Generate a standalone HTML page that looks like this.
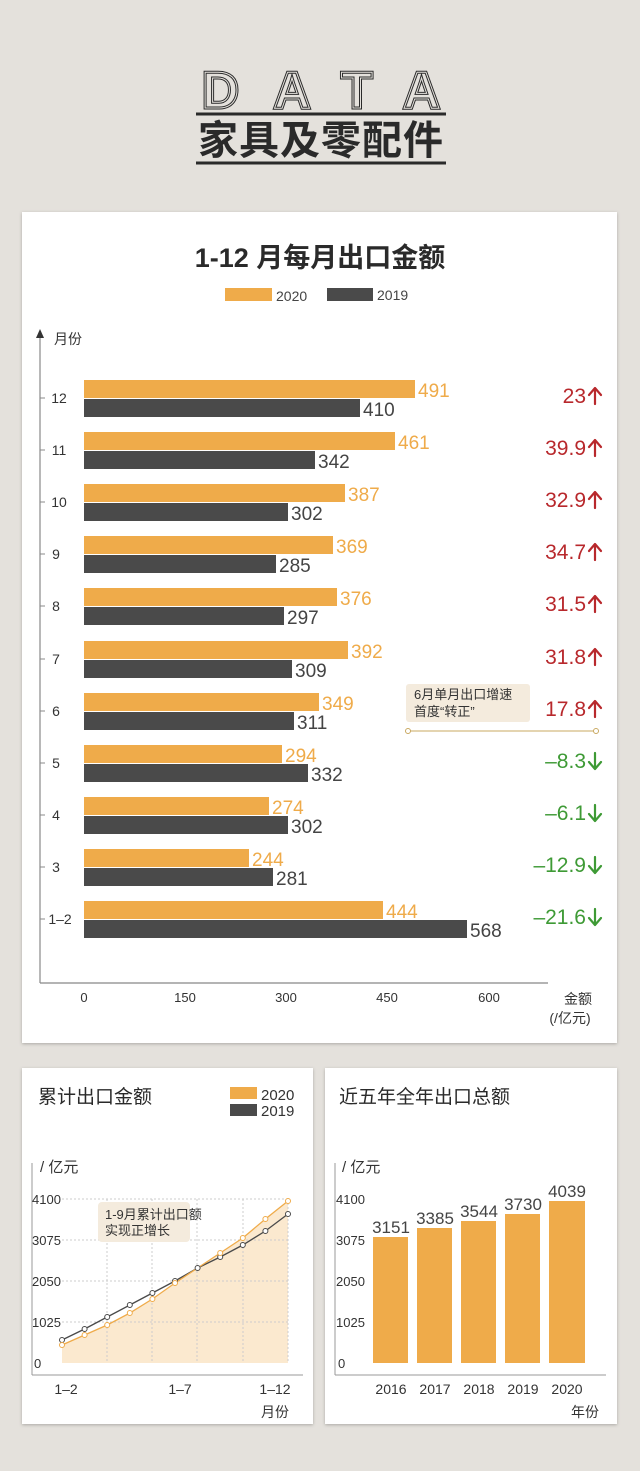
<!DOCTYPE html>
<html><head><meta charset="utf-8"><style>
body{margin:0;width:640px;height:1471px;background:#e4e1dc;overflow:hidden}
svg{display:block;font-family:"Liberation Sans","Noto Sans CJK SC",sans-serif}
</style></head><body>
<svg width="640" height="1471" viewBox="0 0 640 1471">
<defs><filter id="sh"><feDropShadow dx="0" dy="1" stdDeviation="1.5" flood-opacity="0.25"/></filter></defs>
<rect width="640" height="1471" fill="#e4e1dc"/>
<text x="338" y="108" text-anchor="middle" font-size="52" font-weight="bold" fill="none" stroke="#2a2a2a" stroke-width="3" letter-spacing="34">DATA</text>
<text x="338" y="108" text-anchor="middle" font-size="52" font-weight="bold" fill="none" stroke="#e4e1dc" stroke-width="1" letter-spacing="34">DATA</text>
<line x1="196" y1="114" x2="446" y2="114" stroke="#2a2a2a" stroke-width="3"/>
<text x="321" y="154" text-anchor="middle" font-size="40" font-weight="bold" fill="#2a2a2a" letter-spacing="1">家具及零配件</text>
<line x1="196" y1="163" x2="446" y2="163" stroke="#2a2a2a" stroke-width="3"/>
<rect x="22" y="212" width="595" height="831" fill="#fff" filter="url(#sh)"/>
<rect x="22" y="1068" width="291" height="356" fill="#fff" filter="url(#sh)"/>
<rect x="325" y="1068" width="292" height="356" fill="#fff" filter="url(#sh)"/>
<text x="320" y="267" text-anchor="middle" font-size="27" font-weight="bold" fill="#2a2a2a">1-12 月每月出口金额</text>
<rect x="225" y="288" width="47" height="13" fill="#efab4a"/><text x="276" y="301" font-size="14" fill="#444">2020</text>
<rect x="327" y="288" width="46" height="13" fill="#4a4a4a"/><text x="377" y="300" font-size="14" fill="#444">2019</text>
<line x1="40" y1="333" x2="40" y2="983" stroke="#888" stroke-width="1.2"/>
<path d="M36,338 L40,329 L44,338Z" fill="#333"/>
<line x1="40" y1="983" x2="548" y2="983" stroke="#888" stroke-width="1.2"/>
<text x="54" y="344" font-size="14" fill="#333">月份</text>
<g font-size="13" fill="#333" text-anchor="middle">
<text x="84" y="1002">0</text><text x="185" y="1002">150</text><text x="286" y="1002">300</text><text x="387" y="1002">450</text><text x="489" y="1002">600</text>
</g>
<text x="578" y="1004" text-anchor="middle" font-size="14" fill="#333">金额</text>
<text x="570" y="1023" text-anchor="middle" font-size="14" fill="#333">(/亿元)</text>
<g>
<rect x="84" y="380" width="331" height="18" fill="#efab4a"/><rect x="84" y="399" width="276" height="18" fill="#4a4a4a"/>
<rect x="84" y="432" width="311" height="18" fill="#efab4a"/><rect x="84" y="451" width="231" height="18" fill="#4a4a4a"/>
<rect x="84" y="484" width="261" height="18" fill="#efab4a"/><rect x="84" y="503" width="204" height="18" fill="#4a4a4a"/>
<rect x="84" y="536" width="249" height="18" fill="#efab4a"/><rect x="84" y="555" width="192" height="18" fill="#4a4a4a"/>
<rect x="84" y="588" width="253" height="18" fill="#efab4a"/><rect x="84" y="607" width="200" height="18" fill="#4a4a4a"/>
<rect x="84" y="641" width="264" height="18" fill="#efab4a"/><rect x="84" y="660" width="208" height="18" fill="#4a4a4a"/>
<rect x="84" y="693" width="235" height="18" fill="#efab4a"/><rect x="84" y="712" width="210" height="18" fill="#4a4a4a"/>
<rect x="84" y="745" width="198" height="18" fill="#efab4a"/><rect x="84" y="764" width="224" height="18" fill="#4a4a4a"/>
<rect x="84" y="797" width="185" height="18" fill="#efab4a"/><rect x="84" y="816" width="204" height="18" fill="#4a4a4a"/>
<rect x="84" y="849" width="165" height="18" fill="#efab4a"/><rect x="84" y="868" width="189" height="18" fill="#4a4a4a"/>
<rect x="84" y="901" width="299" height="18" fill="#efab4a"/><rect x="84" y="920" width="383" height="18" fill="#4a4a4a"/>
</g>
<g font-size="19" fill="#efab4a">
<text x="418" y="397">491</text><text x="398" y="449">461</text><text x="348" y="501">387</text><text x="336" y="553">369</text><text x="340" y="605">376</text><text x="351" y="658">392</text><text x="322" y="710">349</text><text x="285" y="762">294</text><text x="272" y="814">274</text><text x="252" y="866">244</text><text x="386" y="918">444</text>
</g>
<g font-size="19" fill="#444">
<text x="363" y="416">410</text><text x="318" y="468">342</text><text x="291" y="520">302</text><text x="279" y="572">285</text><text x="287" y="624">297</text><text x="295" y="677">309</text><text x="297" y="729">311</text><text x="311" y="781">332</text><text x="291" y="833">302</text><text x="276" y="885">281</text><text x="470" y="937">568</text>
</g>
<g font-size="14" fill="#333" text-anchor="middle">
<text x="59" y="403">12</text><text x="59" y="455">11</text><text x="59" y="507">10</text><text x="56" y="559">9</text><text x="56" y="611">8</text><text x="56" y="664">7</text><text x="56" y="716">6</text><text x="56" y="768">5</text><text x="56" y="820">4</text><text x="56" y="872">3</text><text x="60" y="924">1–2</text>
</g>
<g stroke="#888"><line x1="40" y1="398" x2="45" y2="398"/><line x1="40" y1="450" x2="45" y2="450"/><line x1="40" y1="502" x2="45" y2="502"/><line x1="40" y1="554" x2="45" y2="554"/><line x1="40" y1="606" x2="45" y2="606"/><line x1="40" y1="659" x2="45" y2="659"/><line x1="40" y1="711" x2="45" y2="711"/><line x1="40" y1="763" x2="45" y2="763"/><line x1="40" y1="815" x2="45" y2="815"/><line x1="40" y1="867" x2="45" y2="867"/><line x1="40" y1="919" x2="45" y2="919"/></g>
<g font-size="21" text-anchor="end">
<g fill="#b8282c"><text x="586" y="403">23</text><text x="586" y="455">39.9</text><text x="586" y="507">32.9</text><text x="586" y="559">34.7</text><text x="586" y="611">31.5</text><text x="586" y="664">31.8</text><text x="586" y="716">17.8</text></g>
<g fill="#3e9a35"><text x="586" y="768">–8.3</text><text x="586" y="820">–6.1</text><text x="586" y="872">–12.9</text><text x="586" y="924">–21.6</text></g>
</g>
<g stroke-width="2.2" fill="none" stroke-linecap="round" stroke-linejoin="round">
<g stroke="#b8282c">
<path d="M595,404 V389 M589,395 L595,388 L601,395"/>
<path d="M595,456 V441 M589,447 L595,440 L601,447"/>
<path d="M595,508 V493 M589,499 L595,492 L601,499"/>
<path d="M595,560 V545 M589,551 L595,544 L601,551"/>
<path d="M595,612 V597 M589,603 L595,596 L601,603"/>
<path d="M595,665 V650 M589,656 L595,649 L601,656"/>
<path d="M595,717 V702 M589,708 L595,701 L601,708"/>
</g>
<g stroke="#3e9a35">
<path d="M595,753 V768 M589,762 L595,769 L601,762"/>
<path d="M595,805 V820 M589,814 L595,821 L601,814"/>
<path d="M595,857 V872 M589,866 L595,873 L601,866"/>
<path d="M595,909 V924 M589,918 L595,925 L601,918"/>
</g></g>
<rect x="406" y="684" width="124" height="38" rx="3" fill="#f4ebdd"/>
<text x="414" y="699" font-size="13" fill="#333">6月单月出口增速</text>
<text x="414" y="716" font-size="13" fill="#333">首度“转正”</text>
<line x1="408" y1="731" x2="596" y2="731" stroke="#c9a860"/>
<circle cx="408" cy="731" r="2.5" fill="#fff" stroke="#c9a860"/><circle cx="596" cy="731" r="2.5" fill="#fff" stroke="#c9a860"/>

<text x="38" y="1103" font-size="19" fill="#2a2a2a">累计出口金额</text>
<rect x="230" y="1087" width="27" height="12" fill="#efab4a"/><text x="261" y="1100" font-size="15" fill="#333">2020</text>
<rect x="230" y="1104" width="27" height="12" fill="#4a4a4a"/><text x="261" y="1116" font-size="15" fill="#333">2019</text>
<line x1="32" y1="1163" x2="32" y2="1375" stroke="#999"/><line x1="32" y1="1375" x2="303" y2="1375" stroke="#999"/>
<text x="40" y="1172" font-size="15" fill="#333">/ 亿元</text>
<path d="M62,1345 L84.6,1335 L107.2,1325 L129.8,1313 L152.4,1299 L175,1283 L197.6,1268 L220.2,1253 L242.8,1238 L265.4,1219 L288,1201 L288,1363 L62,1363Z" fill="#fbe9cf"/>
<g stroke="#ccc" stroke-dasharray="2,2"><line x1="62" y1="1199" x2="288" y2="1199"/><line x1="62" y1="1240" x2="288" y2="1240"/><line x1="62" y1="1281" x2="288" y2="1281"/><line x1="62" y1="1322" x2="288" y2="1322"/>
<line x1="107" y1="1199" x2="107" y2="1363"/><line x1="152" y1="1199" x2="152" y2="1363"/><line x1="197" y1="1199" x2="197" y2="1363"/><line x1="243" y1="1199" x2="243" y2="1363"/><line x1="288" y1="1199" x2="288" y2="1363"/></g>
<g font-size="13" fill="#333"><text x="32" y="1204">4100</text><text x="32" y="1245">3075</text><text x="32" y="1286">2050</text><text x="32" y="1327">1025</text><text x="34" y="1368">0</text></g>
<rect x="98" y="1202" width="92" height="40" rx="4" fill="#f4ebdd"/>
<text x="105" y="1219" font-size="13" fill="#333">1-9月累计出口额</text>
<text x="105" y="1235" font-size="13" fill="#333">实现正增长</text>
<polyline points="62,1340 84.6,1329 107.2,1317 129.8,1305 152.4,1293 175,1281 197.6,1268 220.2,1257 242.8,1245 265.4,1231 288,1214" fill="none" stroke="#4a4a4a" stroke-width="1.3"/>
<polyline points="62,1345 84.6,1335 107.2,1325 129.8,1313 152.4,1299 175,1283 197.6,1268 220.2,1253 242.8,1238 265.4,1219 288,1201" fill="none" stroke="#efab4a" stroke-width="1.3"/>
<g fill="#fff" stroke="#4a4a4a"><circle cx="62" cy="1340" r="2.5"/><circle cx="84.6" cy="1329" r="2.5"/><circle cx="107.2" cy="1317" r="2.5"/><circle cx="129.8" cy="1305" r="2.5"/><circle cx="152.4" cy="1293" r="2.5"/><circle cx="175" cy="1281" r="2.5"/><circle cx="197.6" cy="1268" r="2.5"/><circle cx="220.2" cy="1257" r="2.5"/><circle cx="242.8" cy="1245" r="2.5"/><circle cx="265.4" cy="1231" r="2.5"/><circle cx="288" cy="1214" r="2.5"/></g>
<g fill="#fff" stroke="#efab4a"><circle cx="62" cy="1345" r="2.5"/><circle cx="84.6" cy="1335" r="2.5"/><circle cx="107.2" cy="1325" r="2.5"/><circle cx="129.8" cy="1313" r="2.5"/><circle cx="152.4" cy="1299" r="2.5"/><circle cx="175" cy="1283" r="2.5"/><circle cx="220.2" cy="1253" r="2.5"/><circle cx="242.8" cy="1238" r="2.5"/><circle cx="265.4" cy="1219" r="2.5"/><circle cx="288" cy="1201" r="2.5"/></g>
<g font-size="14" fill="#333" text-anchor="middle"><text x="66" y="1394">1–2</text><text x="180" y="1394">1–7</text><text x="275" y="1394">1–12</text><text x="275" y="1417">月份</text></g>

<text x="339" y="1103" font-size="19" fill="#2a2a2a">近五年全年出口总额</text>
<line x1="335" y1="1163" x2="335" y2="1375" stroke="#999"/><line x1="335" y1="1375" x2="606" y2="1375" stroke="#999"/>
<text x="342" y="1172" font-size="15" fill="#333">/ 亿元</text>
<g font-size="13" fill="#333"><text x="336" y="1204">4100</text><text x="336" y="1245">3075</text><text x="336" y="1286">2050</text><text x="336" y="1327">1025</text><text x="338" y="1368">0</text></g>
<g fill="#efab4a"><rect x="373" y="1237" width="35" height="126"/><rect x="417" y="1228" width="35" height="135"/><rect x="461" y="1221" width="35" height="142"/><rect x="505" y="1214" width="35" height="149"/><rect x="549" y="1201" width="36" height="162"/></g>
<g font-size="17" fill="#444" text-anchor="middle"><text x="391" y="1233">3151</text><text x="435" y="1224">3385</text><text x="479" y="1217">3544</text><text x="523" y="1210">3730</text><text x="567" y="1197">4039</text></g>
<g font-size="14" fill="#333" text-anchor="middle"><text x="391" y="1394">2016</text><text x="435" y="1394">2017</text><text x="479" y="1394">2018</text><text x="523" y="1394">2019</text><text x="567" y="1394">2020</text><text x="585" y="1417">年份</text></g>
</svg>
</body></html>
